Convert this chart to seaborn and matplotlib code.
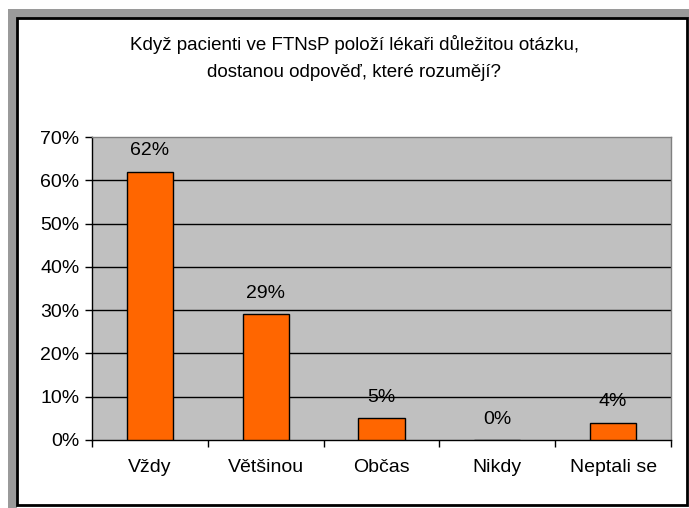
import matplotlib
matplotlib.use('Agg')
import matplotlib.pyplot as plt
import seaborn as sns
from matplotlib.patches import Rectangle
from matplotlib.ticker import FixedLocator, PercentFormatter

categories = ['Vždy', 'Většinou', 'Občas', 'Nikdy', 'Neptali se']
values = [62, 29, 5, 0, 4]
title = 'Když pacienti ve FTNsP položí lékaři důležitou otázku,\ndostanou odpověď, které rozumějí?'

sns.set_style('white')
plt.rcParams['font.family'] = ['Liberation Sans', 'DejaVu Sans']
plt.rcParams['text.color'] = 'black'
plt.rcParams['xtick.color'] = 'black'
plt.rcParams['ytick.color'] = 'black'

W, H = 689, 508
fig = plt.figure(figsize=(W / 100, H / 100), dpi=100)
fig.patch.set_facecolor('white')

# Excel-like frame: grey shadow strip and black border
fig.patches.append(Rectangle((8 / W, 0), 9 / W, (H - 9) / H, transform=fig.transFigure,
                             facecolor='#9a9a9a', edgecolor='none', zorder=0))
fig.patches.append(Rectangle((8 / W, (H - 18) / H), (W - 8) / W, 9 / H, transform=fig.transFigure,
                             facecolor='#9a9a9a', edgecolor='none', zorder=0))
fig.patches.append(Rectangle((17 / W, 3 / H), (W - 19) / W, (H - 21) / H, transform=fig.transFigure,
                             facecolor='white', edgecolor='black', linewidth=2, zorder=1))

ax = fig.add_axes([92 / W, (H - 440) / H, (671 - 92) / W, (440 - 137) / H], zorder=2)
ax.set_facecolor('#c0c0c0')

sns.barplot(x=categories, y=values, color='#ff6600', edgecolor='black', linewidth=1,
            width=0.4, saturation=1, ax=ax, zorder=3)

ax.set_ylim(0, 70)
ax.set_xlim(-0.5, len(categories) - 0.5)
ax.set_yticks(range(0, 71, 10))
ax.yaxis.set_major_formatter(PercentFormatter(decimals=0))
for y in range(10, 70, 10):
    ax.axhline(y, color='black', linewidth=1, zorder=1)

ax.tick_params(axis='y', direction='out', length=5, width=1, color='black',
               labelsize=14, pad=4, left=True, labelcolor='black')
ax.tick_params(axis='x', which='major', length=0, labelsize=14, pad=14, labelcolor='black')
ax.xaxis.set_minor_locator(FixedLocator([i - 0.5 for i in range(len(categories) + 1)]))
ax.tick_params(axis='x', which='minor', direction='out', length=5, width=1, color='black', bottom=True)

for side in ['left', 'bottom']:
    ax.spines[side].set_color('black')
    ax.spines[side].set_linewidth(1)
for side in ['top', 'right']:
    ax.spines[side].set_color('#808080')
    ax.spines[side].set_linewidth(1)

ax.bar_label(ax.containers[0], labels=[f'{v}%' for v in values], padding=9, fontsize=14, color='black')
ax.set_xlabel('')
ax.set_ylabel('')

fig.text(354 / W, 1 - 58 / H, title, ha='center', va='center', fontsize=13.5,
         linespacing=1.8, color='black')

fig.savefig('out.png', dpi=100)
